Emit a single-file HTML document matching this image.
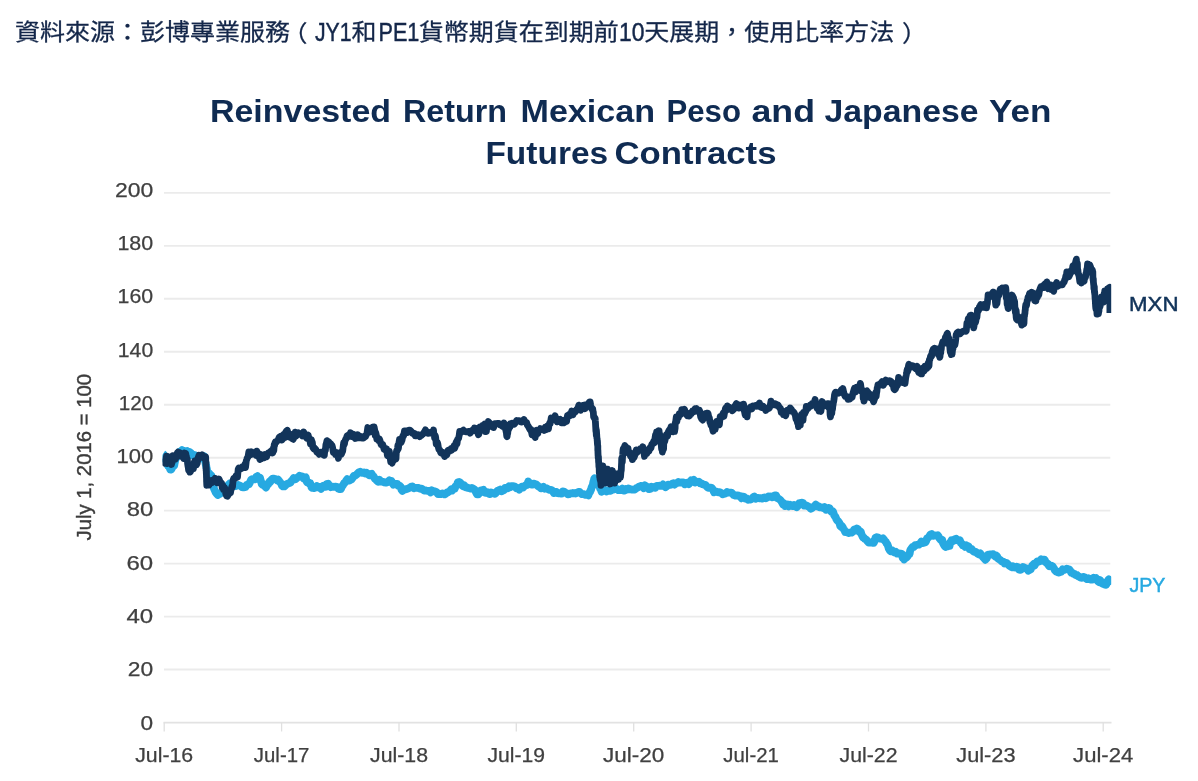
<!DOCTYPE html>
<html lang="zh-Hant"><head><meta charset="utf-8"><title>Reinvested Return Mexican Peso and Japanese Yen Futures Contracts</title>
<style>
html,body{margin:0;padding:0;background:#fff;}
body{width:1198px;height:781px;position:relative;overflow:hidden;font-family:"Liberation Sans","Noto Sans CJK TC",sans-serif;}
#src{position:absolute;left:15px;top:12.9px;margin:0;font-size:25px;font-weight:400;line-height:36px;color:#14274a;white-space:nowrap;font-family:"Liberation Sans","Noto Sans CJK TC",sans-serif;-webkit-text-stroke:0.3px #14274a;transform:scaleY(.925);transform-origin:0 27px;}
#src .l{display:inline-block;position:relative;top:1.2px;font-size:27.4px;vertical-align:baseline;white-space:nowrap;-webkit-text-stroke:0.5px #14274a;}
#src .l i{display:inline-block;font-style:normal;transform-origin:0 50%;}
#src .pl{position:relative;left:-7.5px;top:1.5px;}
#src .pr{position:relative;left:7.7px;top:1.5px;}
svg{position:absolute;left:0;top:0;}
svg text{font-family:"Liberation Sans",sans-serif;}
.ax text{font-size:20px;fill:#404040;stroke:#404040;stroke-width:0.25px;}
.ttl text{font-size:31.4px;font-weight:bold;fill:#0f2b52;}
</style></head><body>
<p id="src">資料來源：彭博專業服務<span class="pl">（</span><span class="l" style="width:36.5px"><i style="transform:scaleX(.775)">JY1</i></span>和<span class="l" style="width:42.2px"><i style="transform:translateX(1.5px) scaleX(.79)">PE1</i></span>貨幣期貨在到期前<span class="l" style="width:25.5px"><i style="transform:scaleX(.835)">10</i></span>天展期，使用比率方法<span class="pr">）</span></p>
<svg width="1198" height="781" viewBox="0 0 1198 781">
<g class="ttl">
<text y="121.6"><tspan x="210" textLength="181.0" lengthAdjust="spacingAndGlyphs">Reinvested</tspan> <tspan x="403" textLength="104.0" lengthAdjust="spacingAndGlyphs">Return</tspan> <tspan x="520.5" textLength="134.5" lengthAdjust="spacingAndGlyphs">Mexican</tspan> <tspan x="666.5" textLength="74.5" lengthAdjust="spacingAndGlyphs">Peso</tspan> <tspan x="751.5" textLength="63.5" lengthAdjust="spacingAndGlyphs">and</tspan> <tspan x="824.5" textLength="154.0" lengthAdjust="spacingAndGlyphs">Japanese</tspan> <tspan x="989.0" textLength="62.4" lengthAdjust="spacingAndGlyphs">Yen</tspan></text>
<text y="163.5"><tspan x="485.4" textLength="122.8" lengthAdjust="spacingAndGlyphs">Futures</tspan> <tspan x="614.4" textLength="162.1" lengthAdjust="spacingAndGlyphs">Contracts</tspan></text>
</g>
<g><line x1="164" y1="669.54" x2="1110.3" y2="669.54" stroke="#ebebeb" stroke-width="1.9"/>
<line x1="164" y1="616.58" x2="1110.3" y2="616.58" stroke="#ebebeb" stroke-width="1.9"/>
<line x1="164" y1="563.62" x2="1110.3" y2="563.62" stroke="#ebebeb" stroke-width="1.9"/>
<line x1="164" y1="510.66" x2="1110.3" y2="510.66" stroke="#ebebeb" stroke-width="1.9"/>
<line x1="164" y1="457.70" x2="1110.3" y2="457.70" stroke="#ebebeb" stroke-width="1.9"/>
<line x1="164" y1="404.74" x2="1110.3" y2="404.74" stroke="#ebebeb" stroke-width="1.9"/>
<line x1="164" y1="351.78" x2="1110.3" y2="351.78" stroke="#ebebeb" stroke-width="1.9"/>
<line x1="164" y1="298.82" x2="1110.3" y2="298.82" stroke="#ebebeb" stroke-width="1.9"/>
<line x1="164" y1="245.86" x2="1110.3" y2="245.86" stroke="#ebebeb" stroke-width="1.9"/>
<line x1="164" y1="192.90" x2="1110.3" y2="192.90" stroke="#ebebeb" stroke-width="1.9"/>
<line x1="163.5" y1="722.7" x2="1111.5" y2="722.7" stroke="#e2e2e2" stroke-width="1.8"/>
<line x1="164.2" y1="722.5" x2="164.2" y2="731.5" stroke="#e0e0e0" stroke-width="1.3"/>
<line x1="281.6" y1="722.5" x2="281.6" y2="731.5" stroke="#e0e0e0" stroke-width="1.3"/>
<line x1="399.0" y1="722.5" x2="399.0" y2="731.5" stroke="#e0e0e0" stroke-width="1.3"/>
<line x1="516.3" y1="722.5" x2="516.3" y2="731.5" stroke="#e0e0e0" stroke-width="1.3"/>
<line x1="633.7" y1="722.5" x2="633.7" y2="731.5" stroke="#e0e0e0" stroke-width="1.3"/>
<line x1="751.1" y1="722.5" x2="751.1" y2="731.5" stroke="#e0e0e0" stroke-width="1.3"/>
<line x1="868.5" y1="722.5" x2="868.5" y2="731.5" stroke="#e0e0e0" stroke-width="1.3"/>
<line x1="985.9" y1="722.5" x2="985.9" y2="731.5" stroke="#e0e0e0" stroke-width="1.3"/>
<line x1="1103.2" y1="722.5" x2="1103.2" y2="731.5" stroke="#e0e0e0" stroke-width="1.3"/>
</g>
<g class="ax">
<text x="153.2" y="729.5" text-anchor="end" textLength="12.6" lengthAdjust="spacingAndGlyphs">0</text>
<text x="153.2" y="676.2" text-anchor="end" textLength="25.4" lengthAdjust="spacingAndGlyphs">20</text>
<text x="153.2" y="622.9" text-anchor="end" textLength="26.7" lengthAdjust="spacingAndGlyphs">40</text>
<text x="153.2" y="569.7" text-anchor="end" textLength="26.7" lengthAdjust="spacingAndGlyphs">60</text>
<text x="153.2" y="516.4" text-anchor="end" textLength="26.5" lengthAdjust="spacingAndGlyphs">80</text>
<text x="153.2" y="463.1" text-anchor="end" textLength="36.8" lengthAdjust="spacingAndGlyphs">100</text>
<text x="153.2" y="409.8" text-anchor="end" textLength="34.5" lengthAdjust="spacingAndGlyphs">120</text>
<text x="153.2" y="356.5" text-anchor="end" textLength="35.4" lengthAdjust="spacingAndGlyphs">140</text>
<text x="153.2" y="303.3" text-anchor="end" textLength="35.6" lengthAdjust="spacingAndGlyphs">160</text>
<text x="153.2" y="250.0" text-anchor="end" textLength="35.8" lengthAdjust="spacingAndGlyphs">180</text>
<text x="153.2" y="196.7" text-anchor="end" textLength="38.3" lengthAdjust="spacingAndGlyphs">200</text>
<text x="164.2" y="761.8" text-anchor="middle" textLength="58" lengthAdjust="spacingAndGlyphs">Jul-16</text>
<text x="281.6" y="761.8" text-anchor="middle" textLength="55.5" lengthAdjust="spacingAndGlyphs">Jul-17</text>
<text x="399.0" y="761.8" text-anchor="middle" textLength="58" lengthAdjust="spacingAndGlyphs">Jul-18</text>
<text x="516.3" y="761.8" text-anchor="middle" textLength="57.5" lengthAdjust="spacingAndGlyphs">Jul-19</text>
<text x="633.7" y="761.8" text-anchor="middle" textLength="61.3" lengthAdjust="spacingAndGlyphs">Jul-20</text>
<text x="751.1" y="761.8" text-anchor="middle" textLength="55.5" lengthAdjust="spacingAndGlyphs">Jul-21</text>
<text x="868.5" y="761.8" text-anchor="middle" textLength="58" lengthAdjust="spacingAndGlyphs">Jul-22</text>
<text x="985.9" y="761.8" text-anchor="middle" textLength="59.2" lengthAdjust="spacingAndGlyphs">Jul-23</text>
<text x="1103.2" y="761.8" text-anchor="middle" textLength="60.2" lengthAdjust="spacingAndGlyphs">Jul-24</text>

<text transform="translate(91.3 457.2) rotate(-90)" text-anchor="middle" textLength="166.5" lengthAdjust="spacingAndGlyphs" style="font-size:21px;fill:#3c3c3c;stroke:#3c3c3c;stroke-width:0.4">July 1, 2016 = 100</text>
</g>
<defs><clipPath id="cp"><rect x="162.5" y="180" width="948.7" height="560"/></clipPath></defs>
<g clip-path="url(#cp)">
<path d="M162.9 453.9 L163.5 454.3 L164.1 456.6 L164.7 458.8 L165.3 459.3 L165.9 459.7 L166.5 461.7 L167.2 463.6 L167.8 465.5 L168.4 465.1 L169.1 465.6 L169.8 468.2 L170.4 469.7 L171.2 469.6 L171.9 468.4 L172.7 466.3 L173.4 464.6 L174.2 465.5 L174.7 462.8 L175.2 460.5 L175.7 458.6 L176.2 458.0 L176.8 457.1 L177.3 455.5 L177.8 454.4 L178.3 453.4 L178.8 452.6 L179.3 451.9 L180.6 451.7 L181.9 450.1 L183.1 451.8 L184.4 450.9 L185.7 451.6 L187.0 451.0 L188.2 452.1 L189.5 452.0 L190.8 452.9 L192.1 455.3 L193.1 454.9 L194.0 456.0 L195.0 455.2 L196.0 456.2 L196.9 457.9 L197.9 458.5 L199.2 458.5 L200.5 458.1 L201.7 456.9 L203.0 457.5 L204.3 456.5 L204.6 459.8 L204.9 460.0 L205.2 461.9 L205.5 462.9 L205.8 465.0 L206.2 465.4 L206.5 467.7 L206.8 468.5 L207.1 470.8 L207.4 472.1 L207.7 473.0 L208.9 472.9 L210.1 474.6 L211.3 475.6 L211.6 478.0 L211.8 478.1 L212.1 479.8 L212.3 481.3 L212.6 482.5 L212.9 483.8 L213.1 485.2 L213.4 485.9 L213.6 486.7 L213.9 488.4 L214.8 490.4 L215.8 492.7 L216.8 493.8 L217.7 495.0 L219.0 494.3 L220.2 493.7 L221.5 492.7 L222.8 492.6 L223.5 492.4 L224.3 490.0 L225.0 488.0 L225.8 488.8 L226.5 487.0 L227.3 486.2 L228.0 485.2 L229.5 483.7 L231.0 486.3 L232.4 486.6 L233.9 485.8 L235.4 486.1 L236.9 485.8 L238.2 485.0 L239.5 485.4 L240.8 486.1 L242.0 487.2 L243.3 487.4 L244.6 487.0 L245.7 487.0 L246.7 484.8 L247.8 484.6 L248.9 484.3 L249.9 482.5 L251.0 480.0 L252.1 479.2 L253.1 479.4 L254.2 479.2 L255.3 479.4 L256.3 476.9 L257.4 476.2 L258.3 477.9 L259.1 478.7 L260.0 477.8 L260.8 480.8 L261.7 483.9 L262.5 484.7 L263.4 484.2 L264.2 485.1 L265.1 486.6 L266.0 487.5 L266.8 485.8 L267.6 484.0 L268.5 483.9 L269.4 481.8 L270.2 482.0 L271.5 479.7 L272.8 478.6 L274.0 478.7 L275.3 479.0 L276.3 479.8 L277.2 480.5 L278.2 479.7 L279.1 481.0 L280.1 482.3 L281.1 483.5 L282.0 485.6 L283.0 486.4 L284.3 486.4 L285.6 485.3 L286.8 484.1 L288.1 483.5 L289.4 483.1 L290.5 482.7 L291.5 480.9 L292.6 479.9 L293.7 478.1 L294.7 479.3 L295.8 479.1 L297.1 477.8 L298.4 476.9 L299.6 475.7 L300.9 476.3 L302.2 476.3 L303.4 478.4 L304.5 477.7 L305.1 477.8 L305.8 477.4 L306.4 481.0 L307.1 482.2 L307.7 482.0 L309.0 483.6 L310.3 483.3 L311.5 487.5 L312.8 488.0 L314.1 488.2 L315.5 487.7 L316.9 486.2 L318.3 487.4 L319.7 487.0 L321.1 488.9 L322.3 486.3 L323.4 485.7 L324.6 486.7 L325.7 486.9 L326.9 484.1 L328.2 483.7 L329.5 485.9 L330.7 487.2 L332.0 486.6 L333.3 486.9 L334.6 486.9 L335.9 486.6 L337.1 487.0 L338.4 488.8 L339.7 489.1 L340.8 489.2 L341.8 486.9 L342.9 485.3 L344.0 483.3 L345.0 482.6 L346.1 480.7 L347.2 479.1 L348.3 480.1 L349.4 480.6 L350.5 479.8 L351.6 479.4 L352.7 477.8 L353.8 475.9 L355.1 475.6 L356.4 474.8 L357.6 473.6 L358.9 472.3 L360.2 471.7 L361.5 472.6 L362.8 472.9 L364.0 472.4 L365.3 473.6 L366.6 472.8 L367.9 473.8 L369.1 475.2 L370.4 474.5 L371.7 473.8 L372.8 476.3 L373.8 476.6 L374.9 478.9 L376.0 479.5 L377.0 480.8 L378.1 481.7 L379.4 479.8 L380.7 481.7 L381.9 481.6 L383.2 481.8 L384.5 482.5 L385.8 482.7 L387.0 482.3 L388.3 481.8 L389.3 480.5 L390.3 481.3 L391.4 481.0 L392.4 482.8 L393.4 484.6 L394.7 483.7 L396.0 484.0 L397.3 484.0 L398.1 485.7 L399.0 485.4 L399.9 485.9 L400.7 486.7 L401.5 489.7 L402.4 490.9 L403.7 489.8 L405.0 489.4 L406.2 489.1 L407.5 488.8 L408.8 488.2 L410.1 487.7 L411.4 486.6 L412.6 486.5 L413.9 488.2 L415.2 487.8 L416.5 487.8 L417.8 487.8 L419.0 488.2 L420.3 488.9 L421.6 488.6 L422.9 489.6 L424.2 490.5 L425.4 490.4 L426.7 490.7 L428.0 491.0 L429.3 490.9 L430.6 492.4 L431.8 490.3 L433.1 491.2 L434.4 491.3 L435.7 491.7 L437.0 492.7 L438.2 494.2 L439.5 494.1 L440.8 494.1 L442.1 493.5 L443.4 493.6 L444.6 494.4 L445.9 493.6 L447.2 492.5 L448.5 492.0 L450.1 490.7 L451.1 489.5 L452.1 490.5 L453.0 489.7 L454.0 488.3 L454.8 488.5 L455.5 486.2 L456.3 485.8 L457.0 485.1 L457.8 482.3 L459.1 482.0 L460.4 482.7 L461.6 484.8 L462.9 486.2 L464.2 485.3 L465.4 487.3 L466.7 487.4 L468.0 488.0 L469.3 488.2 L470.6 488.7 L471.9 488.0 L473.2 488.7 L474.5 489.4 L475.7 491.7 L477.0 494.4 L478.3 494.4 L479.6 492.6 L480.8 490.4 L482.1 490.5 L483.4 489.8 L484.7 492.6 L486.0 492.8 L487.2 492.2 L488.5 493.6 L489.8 494.1 L491.1 492.5 L492.4 492.9 L493.6 493.4 L494.9 493.9 L495.8 493.1 L496.6 491.7 L497.5 490.9 L498.8 490.3 L500.1 489.6 L501.3 491.3 L502.6 490.8 L503.9 490.2 L505.1 487.9 L506.4 487.8 L507.7 488.2 L509.0 486.3 L510.2 487.3 L511.5 486.2 L512.8 486.1 L514.1 486.3 L515.4 487.0 L516.6 488.4 L517.9 487.9 L519.2 489.6 L520.5 487.9 L521.8 486.8 L523.1 487.6 L524.4 486.2 L525.4 485.3 L526.3 485.3 L527.2 484.9 L528.2 481.6 L529.5 482.8 L530.8 484.5 L532.0 484.7 L533.3 483.6 L534.3 483.6 L535.3 484.3 L536.4 484.4 L537.4 485.6 L538.4 486.6 L539.7 487.0 L541.0 488.4 L542.2 487.9 L543.5 486.9 L544.8 488.7 L546.1 488.1 L547.4 488.7 L548.6 489.5 L549.9 489.9 L551.2 489.9 L552.5 490.6 L553.8 493.0 L555.0 491.8 L556.3 491.9 L557.6 493.1 L558.9 493.3 L560.2 493.5 L561.4 493.7 L562.7 491.5 L564.0 491.6 L565.3 492.6 L566.6 493.3 L567.8 494.3 L569.1 494.1 L570.4 493.5 L571.7 493.4 L573.0 493.0 L574.2 493.2 L575.5 493.5 L576.8 492.8 L578.1 492.1 L579.4 491.8 L580.6 493.3 L581.9 494.1 L583.2 494.1 L584.5 494.5 L585.8 494.9 L587.0 494.7 L588.3 495.4 L589.2 492.9 L590.1 491.9 L590.5 490.3 L591.0 490.0 L591.4 488.1 L591.8 486.9 L592.3 486.1 L592.7 485.8 L593.1 483.2 L593.5 481.2 L593.8 481.1 L594.2 478.7 L594.6 478.3 L595.5 479.0 L596.3 480.5 L597.2 480.4 L597.9 483.2 L598.7 484.1 L599.4 484.9 L600.1 488.5 L600.9 489.5 L601.6 491.7 L602.9 490.9 L604.2 490.1 L605.5 490.2 L606.7 491.5 L608.0 490.7 L609.3 490.9 L610.6 490.8 L611.9 489.4 L613.1 489.6 L614.4 489.0 L615.7 488.1 L617.0 489.3 L618.3 490.1 L619.6 490.2 L620.8 489.6 L622.1 488.7 L623.4 490.6 L624.7 490.5 L626.0 489.0 L627.2 489.6 L628.5 488.4 L629.8 489.1 L631.1 489.4 L632.4 489.7 L633.6 489.6 L634.9 489.5 L636.2 488.3 L637.5 487.6 L638.8 486.8 L640.0 486.2 L641.3 485.9 L642.6 486.7 L643.8 488.1 L645.1 485.4 L646.4 486.9 L647.7 487.0 L649.0 489.2 L650.2 489.0 L651.5 486.9 L652.8 487.8 L654.1 487.0 L655.4 487.7 L656.6 486.0 L657.9 486.0 L659.2 485.7 L660.5 485.8 L661.8 485.6 L663.0 484.5 L664.3 486.1 L665.6 487.2 L666.9 486.2 L668.2 484.7 L669.5 484.8 L670.7 484.8 L672.0 483.9 L673.3 483.3 L674.6 484.6 L675.9 483.1 L677.1 483.1 L678.4 482.0 L679.7 482.7 L681.0 482.6 L682.3 482.3 L683.5 482.3 L684.8 484.2 L686.1 483.2 L687.4 482.7 L688.7 484.1 L690.0 482.6 L691.2 480.4 L692.5 481.0 L693.8 480.0 L695.1 482.5 L696.4 481.5 L697.6 482.0 L698.9 481.7 L700.2 483.4 L701.5 483.3 L702.8 484.3 L704.0 484.6 L705.3 484.8 L706.6 486.4 L707.9 487.6 L709.2 487.9 L710.4 487.6 L711.7 487.8 L713.0 489.5 L714.0 492.3 L715.0 491.6 L716.1 491.5 L717.1 492.0 L718.1 492.3 L719.6 492.2 L721.2 492.8 L722.7 494.4 L724.3 493.9 L725.8 493.2 L727.1 491.9 L728.3 492.7 L729.6 492.7 L730.0 492.6 L731.3 492.6 L732.6 493.7 L733.8 495.1 L735.1 495.5 L736.4 495.5 L737.7 495.3 L739.0 496.0 L740.2 496.2 L741.5 498.3 L742.8 496.7 L744.1 496.9 L745.4 498.6 L746.6 498.3 L747.9 499.8 L749.2 499.4 L750.5 499.7 L751.8 498.7 L753.1 497.2 L754.3 496.6 L755.6 498.7 L756.9 498.0 L758.2 497.9 L759.5 498.3 L760.7 498.2 L762.0 498.6 L763.3 497.8 L764.6 497.4 L765.9 498.3 L767.1 497.5 L768.4 496.4 L769.7 496.9 L771.0 496.5 L772.3 497.2 L773.5 496.2 L774.8 495.4 L776.1 495.5 L777.1 498.1 L778.1 498.4 L779.2 499.2 L780.2 499.9 L781.2 501.0 L782.2 502.7 L783.1 504.5 L784.0 503.3 L785.0 506.0 L786.3 505.3 L787.6 504.5 L788.8 506.3 L790.1 504.8 L791.4 505.8 L792.7 506.1 L794.0 505.0 L795.3 506.2 L796.6 507.2 L797.9 505.9 L799.2 503.1 L800.4 503.1 L801.7 502.7 L803.0 502.8 L804.2 505.6 L805.5 505.4 L806.8 505.6 L807.8 506.3 L808.7 506.6 L809.6 507.2 L810.6 508.7 L811.9 508.3 L813.2 507.0 L814.5 506.4 L815.8 504.6 L817.1 506.3 L818.4 506.2 L819.6 507.3 L820.9 507.1 L822.2 507.7 L823.5 508.2 L824.7 507.1 L826.0 509.7 L827.2 508.5 L828.5 508.0 L829.5 508.1 L830.5 510.5 L831.4 511.8 L832.4 511.9 L832.9 511.5 L833.5 512.8 L834.0 515.0 L834.6 515.8 L835.1 516.2 L835.7 517.2 L836.2 518.7 L837.2 520.4 L838.2 521.2 L839.3 522.7 L840.3 526.0 L841.3 527.0 L842.1 526.2 L842.9 527.8 L843.6 529.0 L844.4 530.1 L845.2 532.2 L846.5 532.1 L847.7 532.5 L849.0 533.0 L850.3 532.3 L851.6 532.6 L852.9 531.8 L854.2 529.6 L855.5 529.2 L856.7 528.5 L858.0 529.2 L858.7 530.2 L859.3 531.8 L860.0 532.3 L860.8 531.8 L861.5 534.3 L862.3 535.9 L863.0 537.6 L863.8 537.5 L864.8 538.9 L865.8 539.3 L866.7 540.0 L867.7 541.6 L868.8 542.7 L870.0 542.6 L871.1 542.3 L872.2 542.8 L873.0 542.3 L873.8 542.7 L874.6 541.1 L875.4 537.9 L876.5 537.2 L877.5 537.3 L878.6 537.8 L879.7 538.6 L880.8 538.6 L881.9 538.9 L883.0 538.3 L883.9 539.5 L884.8 540.8 L885.7 541.6 L886.6 543.4 L887.5 544.4 L888.1 546.2 L888.8 548.6 L889.4 549.7 L890.1 550.7 L890.7 551.3 L892.0 550.3 L893.2 551.3 L894.5 552.4 L895.8 551.8 L897.1 553.6 L898.4 553.2 L899.7 553.8 L901.0 553.7 L901.8 554.0 L902.6 557.6 L903.4 557.2 L904.2 559.5 L905.5 557.8 L906.7 557.3 L908.0 555.7 L908.5 554.3 L909.1 554.1 L909.6 554.0 L910.1 550.8 L910.7 549.4 L911.2 548.8 L912.5 547.0 L913.8 546.9 L915.0 545.2 L916.3 545.1 L917.6 544.6 L918.8 544.7 L920.1 543.6 L921.4 541.5 L922.7 543.1 L924.0 542.7 L924.8 542.5 L925.5 542.3 L926.3 540.7 L927.0 538.3 L927.8 538.1 L929.1 536.8 L930.4 534.6 L931.7 534.0 L933.0 535.8 L934.2 535.3 L935.5 535.6 L936.8 535.6 L937.8 535.3 L938.7 536.7 L939.6 538.6 L940.6 539.8 L941.4 540.6 L942.2 539.9 L942.9 543.0 L943.7 544.5 L944.5 545.9 L945.8 547.0 L947.0 546.3 L948.3 546.3 L948.9 545.7 L949.6 545.8 L950.2 542.5 L950.9 541.6 L951.5 540.2 L952.6 540.5 L953.6 540.9 L954.7 539.3 L956.0 538.7 L957.2 540.0 L958.5 540.6 L959.8 540.2 L960.8 542.9 L961.8 543.5 L962.7 545.4 L963.7 545.2 L965.0 546.8 L966.2 545.5 L967.5 547.2 L968.5 546.3 L969.5 549.1 L970.6 549.3 L971.6 549.0 L972.6 550.5 L973.9 551.8 L975.2 551.7 L976.4 552.4 L977.7 553.7 L979.0 554.5 L980.3 553.5 L981.6 555.2 L982.9 557.1 L984.1 558.2 L985.4 559.8 L986.0 557.4 L986.7 558.3 L987.4 556.5 L988.0 554.6 L989.2 554.7 L990.5 554.4 L991.8 554.3 L993.1 554.1 L994.4 555.7 L995.4 556.6 L996.3 555.6 L997.2 556.5 L998.2 558.7 L999.5 559.5 L1000.8 560.4 L1002.0 561.4 L1003.3 561.8 L1004.4 563.5 L1005.5 562.8 L1006.6 563.1 L1007.8 564.1 L1008.9 565.3 L1010.0 566.2 L1011.4 567.2 L1012.7 566.2 L1014.0 567.4 L1015.4 567.5 L1016.7 566.6 L1018.0 567.3 L1019.2 569.7 L1020.5 569.9 L1021.8 568.9 L1023.0 567.0 L1024.3 567.7 L1025.6 568.2 L1026.9 568.7 L1028.2 570.7 L1029.4 570.1 L1030.7 569.4 L1031.5 567.1 L1032.3 565.4 L1033.0 564.9 L1033.8 563.9 L1034.6 565.5 L1035.9 563.1 L1037.1 561.5 L1038.4 561.8 L1039.7 561.1 L1041.0 559.5 L1042.2 560.7 L1043.5 559.7 L1044.5 559.6 L1045.5 561.4 L1046.4 562.9 L1047.4 563.4 L1048.4 565.0 L1049.3 566.3 L1050.2 566.1 L1051.2 565.6 L1052.5 566.2 L1053.8 568.1 L1055.0 570.5 L1056.3 571.7 L1057.6 572.2 L1058.8 572.6 L1060.1 571.4 L1061.4 571.8 L1062.7 569.3 L1064.0 569.9 L1065.3 569.5 L1066.6 568.7 L1067.9 569.1 L1069.1 569.3 L1070.4 570.9 L1071.4 572.9 L1072.4 572.8 L1073.5 573.9 L1074.5 573.9 L1075.5 575.1 L1076.8 574.8 L1078.1 576.3 L1079.3 576.7 L1080.6 577.7 L1081.9 577.8 L1083.2 576.9 L1084.5 577.2 L1085.7 578.3 L1087.0 579.1 L1088.3 578.3 L1089.6 579.0 L1090.9 579.5 L1092.2 579.6 L1093.5 577.9 L1094.7 578.8 L1096.0 578.0 L1097.0 580.3 L1098.0 581.3 L1099.1 582.1 L1100.1 580.2 L1101.1 582.5 L1102.4 583.7 L1103.7 582.8 L1104.9 584.6 L1106.2 584.8 L1106.8 583.4 L1107.5 581.8 L1108.2 580.2 L1108.8 579.4 L1109.8 580.9 L1110.7 578.6" fill="none" stroke="#27a9e1" stroke-width="7.8" stroke-linejoin="round" stroke-linecap="butt"/>
<path d="M162.9 458.4 L163.2 459.1 L163.5 461.5 L163.9 461.7 L164.2 462.4 L164.5 462.3 L164.8 461.9 L165.0 463.3 L165.2 461.7 L165.5 461.4 L165.8 459.0 L166.0 457.6 L166.2 458.4 L166.5 456.1 L166.8 460.6 L167.0 462.3 L167.2 463.6 L167.5 460.9 L167.9 458.2 L168.2 458.0 L168.6 457.8 L168.9 458.3 L169.3 457.0 L169.7 459.1 L170.0 458.6 L170.4 460.8 L170.7 462.5 L171.1 462.0 L171.5 464.5 L171.8 462.5 L172.2 462.2 L172.5 458.1 L172.9 455.7 L173.9 457.0 L174.8 458.4 L175.5 458.9 L176.1 457.6 L176.8 455.3 L177.4 452.8 L178.0 452.1 L178.7 454.2 L179.5 452.6 L180.2 454.5 L181.0 456.1 L181.7 453.8 L182.5 456.4 L183.6 458.5 L184.6 453.0 L185.7 453.6 L186.0 455.7 L186.3 456.0 L186.7 459.3 L187.0 460.3 L187.3 459.0 L187.6 463.4 L187.9 465.5 L188.3 467.6 L188.6 470.0 L188.9 469.8 L189.2 470.1 L189.6 468.5 L189.9 472.2 L190.2 472.1 L190.8 470.8 L191.5 468.1 L192.1 466.9 L192.8 466.5 L193.4 468.8 L194.1 462.9 L194.7 461.1 L195.5 462.9 L196.4 464.9 L197.2 463.4 L198.1 457.8 L199.0 455.3 L199.8 457.6 L201.0 456.3 L202.1 454.8 L203.3 457.7 L204.4 458.6 L205.6 456.9 L205.7 457.9 L205.7 459.4 L205.8 462.9 L205.8 463.2 L205.9 463.9 L205.9 465.1 L206.0 462.5 L206.0 467.6 L206.1 469.6 L206.1 470.3 L206.2 467.0 L206.3 469.0 L206.3 473.2 L206.4 470.8 L206.4 473.7 L206.5 477.6 L206.5 475.7 L206.6 481.1 L206.6 481.9 L206.7 481.8 L206.7 483.4 L206.8 485.4 L207.9 484.1 L209.1 485.0 L210.2 481.7 L211.3 480.5 L212.6 482.3 L213.9 480.7 L215.1 478.2 L216.4 480.1 L217.3 482.8 L218.1 480.9 L219.0 479.1 L219.9 481.2 L220.7 482.5 L221.6 483.2 L222.2 487.4 L222.9 485.4 L223.5 489.5 L224.1 487.2 L224.8 488.1 L225.4 491.7 L226.0 494.6 L226.7 496.0 L227.3 496.3 L228.4 494.6 L229.4 493.3 L230.5 492.9 L230.8 490.5 L231.1 489.7 L231.4 489.1 L231.7 487.0 L231.9 486.8 L232.2 485.6 L232.5 486.9 L232.8 483.5 L233.1 480.1 L233.8 478.4 L234.6 477.7 L235.3 478.5 L236.0 475.7 L236.7 475.4 L237.5 477.1 L238.2 469.2 L238.8 468.0 L239.5 469.2 L240.1 469.1 L241.2 468.6 L242.3 466.8 L243.5 467.7 L244.6 466.9 L245.0 464.2 L245.5 467.6 L245.9 464.3 L246.3 460.7 L246.8 459.4 L247.2 457.9 L248.0 457.0 L248.8 452.0 L249.5 452.7 L250.3 454.9 L251.5 451.8 L252.6 452.4 L253.8 454.2 L254.9 454.4 L256.1 455.4 L256.9 451.2 L257.6 452.9 L258.4 454.1 L259.1 457.0 L259.9 459.5 L260.6 454.4 L261.7 458.6 L262.9 455.4 L264.0 457.8 L265.1 454.6 L265.9 455.4 L266.6 456.7 L267.4 454.1 L268.1 453.0 L268.9 453.0 L270.2 451.8 L271.4 450.7 L272.7 452.9 L273.1 451.8 L273.4 448.2 L273.8 450.7 L274.2 444.8 L274.6 445.6 L274.9 443.0 L275.3 442.0 L276.2 442.3 L277.0 440.9 L277.9 440.6 L279.2 437.3 L280.4 436.4 L281.7 440.1 L283.0 438.7 L283.5 436.8 L283.9 434.5 L284.4 437.7 L284.8 437.0 L285.3 437.3 L285.7 432.2 L286.2 431.3 L287.3 430.3 L288.3 433.9 L289.4 437.1 L290.7 434.4 L291.9 438.4 L293.2 439.3 L294.2 436.6 L295.1 432.1 L296.1 436.1 L297.1 434.4 L298.4 432.8 L299.6 433.8 L300.9 434.0 L302.2 435.8 L303.6 431.9 L305.1 434.4 L305.9 436.8 L306.7 438.1 L307.4 436.3 L308.2 435.2 L309.0 438.6 L309.5 439.1 L309.9 440.1 L310.4 443.7 L310.9 442.7 L311.4 439.6 L311.9 442.8 L312.3 442.1 L312.8 447.4 L313.8 448.9 L314.8 448.3 L315.9 449.7 L316.9 452.3 L317.9 452.4 L319.2 454.3 L320.5 452.4 L321.7 453.6 L323.0 454.7 L324.3 455.3 L324.8 450.1 L325.4 450.3 L325.9 444.6 L326.4 443.2 L327.0 440.6 L327.5 443.9 L328.6 441.7 L329.6 443.2 L330.7 443.6 L331.4 445.1 L332.0 445.4 L332.6 447.7 L333.3 452.1 L334.0 451.2 L334.6 452.6 L335.4 454.6 L336.1 454.0 L336.9 452.6 L337.6 454.1 L338.4 458.3 L339.2 453.4 L339.9 452.8 L340.7 454.6 L341.4 454.2 L342.2 451.8 L342.6 451.6 L342.9 449.5 L343.3 445.6 L343.7 442.6 L344.1 442.4 L344.4 444.3 L344.8 441.5 L345.6 439.4 L346.3 438.3 L347.1 435.9 L347.8 437.0 L348.6 434.9 L349.3 436.2 L350.4 432.8 L351.6 436.6 L352.7 436.5 L353.8 434.4 L355.1 438.5 L356.4 438.2 L357.6 434.7 L358.9 436.0 L359.9 437.8 L360.9 436.7 L362.0 438.1 L363.0 438.1 L364.0 437.6 L364.8 436.0 L365.5 436.6 L366.3 434.9 L367.0 433.3 L367.8 427.5 L369.0 430.5 L370.1 431.9 L371.3 429.1 L372.4 427.4 L373.6 430.7 L374.1 426.8 L374.7 430.2 L375.2 435.5 L375.7 432.4 L376.3 435.1 L376.8 439.0 L377.4 437.5 L378.1 438.9 L378.7 440.8 L379.4 439.0 L380.0 440.5 L380.5 442.4 L381.1 444.7 L381.6 444.7 L382.1 445.1 L382.7 444.5 L383.2 446.1 L384.1 449.4 L384.9 449.7 L385.8 448.6 L386.6 448.8 L387.4 455.7 L388.3 456.0 L388.8 456.0 L389.3 451.1 L389.8 455.9 L390.2 458.1 L390.7 461.8 L391.2 461.6 L391.7 461.4 L392.2 463.2 L392.8 457.8 L393.5 460.5 L394.1 459.4 L394.7 456.4 L395.4 458.2 L396.0 458.9 L396.3 452.6 L396.6 450.9 L396.9 451.1 L397.2 450.2 L397.6 448.0 L397.9 445.4 L398.2 449.2 L398.5 447.7 L399.0 442.4 L399.5 439.5 L400.1 443.0 L400.6 442.2 L401.1 442.5 L402.0 440.3 L402.8 435.9 L403.6 435.8 L404.5 430.8 L405.4 430.9 L406.2 431.6 L407.3 432.5 L408.4 430.3 L409.6 430.1 L410.7 430.7 L411.6 431.9 L412.5 433.3 L413.4 433.7 L414.3 433.4 L415.2 435.9 L416.3 435.8 L417.4 434.6 L418.6 434.9 L419.7 436.6 L420.6 435.8 L421.5 435.4 L422.3 434.4 L423.2 433.8 L424.1 432.5 L425.4 429.9 L426.7 431.8 L428.0 433.3 L429.3 433.1 L430.6 432.2 L431.8 433.2 L433.1 431.2 L433.5 429.9 L433.8 433.8 L434.2 434.1 L434.6 438.0 L435.0 436.9 L435.3 435.6 L435.7 437.7 L436.2 443.9 L436.8 443.4 L437.3 442.3 L437.8 443.8 L438.4 447.5 L438.9 449.5 L439.8 450.0 L440.8 453.0 L441.8 453.1 L442.7 452.4 L443.7 453.7 L444.6 456.5 L445.7 455.4 L446.9 454.7 L448.0 450.3 L449.1 450.0 L450.0 450.9 L450.9 448.9 L451.8 450.1 L452.7 449.1 L453.3 448.5 L454.0 445.7 L454.6 448.4 L455.2 446.8 L455.9 443.0 L456.5 441.5 L457.0 443.9 L457.6 439.3 L458.1 439.0 L458.6 438.3 L459.2 435.4 L459.7 431.5 L460.4 431.9 L461.0 431.6 L461.6 432.1 L462.3 431.0 L463.4 430.1 L464.6 431.5 L465.7 431.8 L466.8 431.6 L467.9 431.6 L469.0 431.4 L470.1 433.2 L471.2 431.1 L472.3 430.3 L473.3 430.8 L474.4 427.9 L475.4 429.9 L476.4 428.5 L477.3 430.9 L478.3 434.7 L478.8 434.3 L479.2 432.3 L479.7 430.4 L480.1 426.8 L480.6 430.5 L481.0 428.6 L481.5 428.2 L482.6 425.6 L483.6 426.3 L484.7 424.1 L485.0 428.8 L485.4 431.5 L485.7 428.1 L486.0 430.9 L486.4 431.5 L486.8 426.7 L487.2 424.2 L487.6 423.8 L488.0 423.7 L488.4 421.5 L488.8 422.5 L489.2 422.5 L490.3 424.0 L491.4 425.0 L492.5 427.1 L493.6 427.5 L494.9 423.6 L496.2 423.9 L497.5 423.4 L498.8 423.5 L500.1 424.9 L501.4 425.5 L502.6 426.5 L503.9 423.0 L504.4 423.8 L504.9 427.0 L505.3 428.7 L505.8 429.9 L506.1 431.5 L506.3 431.5 L506.6 434.9 L506.8 436.2 L507.1 436.7 L507.4 434.2 L507.7 433.4 L508.1 428.8 L508.4 428.6 L508.7 429.5 L509.0 426.4 L509.5 427.6 L509.9 427.2 L510.4 423.7 L510.9 423.7 L512.0 423.3 L513.1 424.2 L514.3 424.3 L515.4 422.8 L516.7 420.5 L518.0 420.7 L519.2 420.6 L520.5 421.7 L521.6 422.1 L522.8 420.8 L523.9 419.6 L525.0 421.4 L525.8 422.2 L526.6 422.6 L527.4 425.2 L528.2 426.2 L529.2 428.0 L530.1 429.9 L531.0 429.5 L532.0 434.7 L532.8 432.6 L533.6 435.2 L534.4 435.1 L535.2 437.5 L535.7 430.6 L536.2 430.3 L536.8 431.3 L537.3 431.5 L537.8 433.6 L538.6 430.4 L539.5 430.3 L540.3 428.6 L541.3 429.5 L542.2 429.6 L543.2 428.9 L544.2 430.4 L545.3 427.2 L546.3 429.7 L547.4 426.2 L547.9 426.3 L548.5 428.9 L549.0 424.9 L549.6 423.1 L550.1 423.8 L550.7 421.2 L551.2 418.0 L552.2 418.6 L553.2 419.0 L554.1 418.9 L555.1 415.8 L556.1 420.1 L557.1 421.8 L558.2 419.9 L559.2 420.1 L560.2 419.4 L561.5 422.8 L562.8 420.7 L564.0 422.8 L565.3 421.9 L565.7 419.8 L566.2 420.9 L566.6 421.5 L567.0 418.6 L567.5 415.7 L567.9 416.5 L568.7 414.8 L569.4 414.3 L570.2 415.6 L570.9 414.8 L571.7 411.0 L573.0 414.7 L574.2 411.7 L575.5 411.8 L576.8 409.1 L577.8 408.7 L578.8 405.1 L579.7 409.7 L580.7 410.2 L582.0 406.6 L583.2 405.3 L584.5 405.0 L585.1 408.7 L585.8 406.5 L586.5 405.8 L587.1 404.4 L588.2 404.3 L589.2 402.3 L590.3 403.4 L590.1 401.8 L590.6 404.7 L591.1 407.1 L591.7 409.0 L592.2 409.1 L592.7 408.8 L593.0 411.4 L593.3 412.0 L593.6 416.7 L594.0 417.7 L594.3 417.3 L594.6 417.4 L594.9 417.9 L595.2 418.4 L595.3 420.5 L595.5 423.2 L595.6 425.4 L595.7 427.1 L595.9 431.2 L596.0 428.5 L596.1 429.7 L596.3 435.0 L596.4 430.3 L596.5 431.8 L596.7 434.4 L596.8 436.1 L596.9 438.0 L597.1 438.4 L597.2 440.4 L597.3 441.4 L597.4 443.8 L597.4 440.8 L597.5 442.3 L597.6 445.3 L597.7 445.3 L597.8 446.1 L597.8 450.2 L597.9 450.2 L598.0 453.3 L598.1 455.5 L598.2 456.3 L598.2 457.7 L598.3 458.0 L598.4 456.6 L598.5 459.4 L598.6 462.1 L598.7 462.1 L598.8 463.7 L598.9 466.6 L599.0 465.5 L599.2 468.7 L599.3 472.8 L599.4 470.8 L599.5 472.2 L599.6 473.0 L599.7 477.1 L599.9 477.3 L600.1 479.3 L600.3 478.0 L600.4 479.7 L600.6 481.2 L600.8 479.4 L601.0 485.4 L601.2 484.9 L601.3 479.1 L601.5 480.7 L601.6 478.9 L601.8 478.5 L602.0 477.4 L602.1 472.9 L602.3 472.8 L602.4 475.0 L602.6 471.3 L602.7 468.3 L602.9 465.9 L603.1 467.0 L603.3 471.0 L603.5 475.7 L603.7 475.9 L603.9 476.5 L604.2 480.9 L604.4 478.5 L604.6 478.2 L604.8 481.1 L605.0 483.0 L605.2 481.7 L605.4 479.2 L605.7 480.1 L605.9 479.4 L606.1 475.6 L606.4 475.4 L606.6 473.8 L606.8 474.2 L607.0 472.5 L607.3 471.0 L607.5 469.2 L607.7 472.8 L608.0 475.4 L608.2 474.0 L608.4 476.5 L608.7 475.4 L608.9 477.2 L609.2 479.9 L609.4 483.0 L609.6 481.5 L609.9 482.4 L610.1 484.0 L610.4 479.7 L610.6 480.0 L610.9 478.1 L611.1 478.4 L611.4 474.9 L611.6 471.4 L611.9 472.8 L612.1 472.8 L612.4 470.5 L612.7 474.0 L613.0 474.0 L613.3 474.3 L613.5 477.1 L613.8 475.3 L614.1 477.1 L614.4 479.7 L614.7 483.0 L615.0 480.7 L615.4 479.8 L615.7 477.0 L616.0 476.9 L616.3 478.4 L616.7 473.9 L617.0 477.0 L617.4 474.3 L617.8 475.3 L618.2 476.8 L618.6 479.5 L619.0 477.3 L619.3 473.5 L619.6 476.1 L619.9 476.6 L620.2 475.7 L620.5 477.1 L620.8 473.6 L620.9 471.6 L621.1 471.3 L621.2 469.3 L621.3 470.1 L621.5 464.4 L621.6 463.1 L621.7 458.7 L621.8 461.5 L622.0 459.6 L622.1 460.4 L622.3 461.8 L622.5 457.7 L622.7 454.9 L622.8 452.6 L623.0 450.3 L623.2 449.0 L623.4 449.9 L623.9 448.5 L624.3 447.3 L624.8 445.6 L625.2 446.2 L625.8 447.2 L626.3 447.1 L626.9 449.3 L627.4 449.3 L628.0 448.2 L628.5 453.2 L629.1 453.9 L629.8 452.3 L630.5 456.0 L631.1 456.7 L631.8 454.2 L632.4 459.7 L633.2 458.0 L633.9 457.7 L634.7 455.7 L635.4 453.7 L636.2 449.9 L637.1 452.5 L637.9 451.2 L638.8 449.7 L639.6 449.7 L640.4 448.7 L641.3 448.8 L641.8 448.4 L642.4 449.5 L642.9 446.8 L643.4 449.7 L644.0 453.3 L644.5 456.4 L645.2 453.1 L646.0 451.6 L646.8 453.5 L647.5 450.0 L648.2 450.0 L649.0 451.0 L650.0 447.8 L650.9 448.2 L651.8 444.2 L652.8 443.8 L653.3 442.3 L653.7 441.2 L654.2 441.9 L654.6 442.7 L655.1 437.5 L655.5 435.0 L656.0 435.3 L656.6 432.0 L657.3 433.0 L658.0 432.9 L658.6 430.7 L658.8 433.0 L659.1 430.9 L659.3 435.2 L659.5 433.4 L659.8 435.1 L660.0 436.8 L660.3 438.5 L660.5 442.2 L660.8 442.8 L661.0 442.9 L661.3 445.4 L661.6 448.9 L661.9 448.1 L662.1 449.2 L662.4 452.0 L662.7 449.6 L663.0 445.2 L663.3 449.6 L663.6 448.7 L663.8 441.3 L664.1 441.3 L664.4 441.4 L664.7 441.6 L665.0 440.3 L665.6 437.6 L666.3 434.6 L666.9 435.0 L667.6 436.1 L668.2 432.0 L669.2 430.1 L670.1 430.7 L671.0 426.8 L672.0 427.8 L672.6 429.2 L673.3 431.8 L674.0 431.3 L674.6 431.4 L674.7 430.7 L674.8 430.3 L674.8 428.2 L674.9 427.8 L675.0 428.2 L675.1 428.3 L675.1 428.4 L675.2 423.2 L675.7 421.4 L676.3 416.9 L676.8 421.9 L677.3 418.3 L677.9 417.6 L678.4 417.6 L679.2 413.7 L680.1 414.9 L681.0 413.9 L681.8 409.7 L682.6 411.3 L683.5 412.9 L684.5 409.3 L685.5 413.4 L686.4 414.4 L687.4 415.8 L688.4 415.2 L689.4 416.0 L690.5 413.1 L691.5 413.5 L692.5 410.9 L693.8 411.6 L695.0 408.7 L696.3 408.5 L697.6 411.3 L698.1 411.4 L698.6 411.1 L699.2 410.0 L699.7 411.0 L700.2 413.8 L700.7 416.9 L701.2 417.7 L701.6 419.0 L702.1 419.1 L702.7 420.1 L703.4 416.6 L704.0 414.3 L704.7 415.3 L705.3 413.5 L706.6 413.2 L707.9 413.1 L708.3 414.6 L708.6 417.6 L709.0 419.0 L709.3 417.5 L709.7 420.7 L710.0 422.3 L710.4 421.5 L710.9 425.1 L711.5 425.1 L712.0 425.7 L712.5 428.6 L713.1 431.3 L713.6 429.3 L714.1 429.0 L714.7 425.7 L715.2 429.4 L715.7 424.9 L716.3 425.5 L716.8 421.5 L718.1 422.6 L719.4 424.8 L720.2 416.3 L721.1 416.2 L721.9 417.0 L722.5 415.4 L723.2 413.0 L723.9 416.3 L724.5 412.9 L725.5 408.2 L726.4 410.4 L727.3 405.9 L728.3 408.9 L729.6 407.3 L730.9 408.2 L732.2 410.7 L733.8 409.2 L735.1 405.7 L736.4 403.6 L737.7 407.8 L739.0 408.1 L740.2 405.1 L741.5 406.7 L742.8 406.3 L743.2 407.9 L743.6 404.1 L744.0 407.1 L744.4 411.1 L744.8 413.1 L745.2 414.9 L745.6 410.4 L746.0 414.3 L746.5 414.6 L747.1 416.9 L747.6 411.2 L748.1 409.5 L748.7 408.7 L749.2 409.1 L750.5 407.0 L751.8 408.9 L753.0 405.9 L754.3 406.5 L755.6 405.4 L756.8 406.3 L758.1 405.1 L759.4 403.0 L760.7 407.3 L762.0 407.6 L763.3 406.3 L764.6 407.9 L765.8 410.5 L767.1 408.4 L767.9 408.0 L768.7 408.5 L769.4 408.0 L770.2 405.7 L771.0 401.2 L772.1 405.2 L773.1 404.6 L774.2 403.4 L775.2 403.7 L776.1 405.4 L777.0 405.4 L778.0 405.0 L778.6 406.0 L779.3 407.3 L779.9 408.3 L780.6 408.4 L781.2 412.3 L782.3 410.9 L783.3 414.6 L784.4 413.6 L785.0 414.3 L785.7 415.7 L786.3 413.5 L787.0 410.3 L787.6 410.0 L788.9 410.8 L790.1 408.0 L791.4 409.3 L792.4 411.6 L793.3 411.7 L794.3 413.1 L795.3 415.2 L795.6 417.0 L795.9 418.7 L796.2 419.5 L796.5 419.0 L796.8 420.1 L797.0 420.8 L797.3 421.8 L797.6 423.2 L797.9 421.7 L798.2 424.4 L798.5 426.7 L798.9 424.3 L799.2 424.3 L799.6 424.5 L799.9 422.6 L800.3 425.1 L800.6 416.9 L801.0 417.6 L801.6 414.4 L802.3 417.6 L803.0 420.4 L803.6 412.3 L804.1 413.4 L804.7 413.8 L805.2 411.8 L805.7 411.9 L806.3 406.3 L806.8 409.1 L807.8 408.7 L808.8 407.4 L809.9 405.3 L810.9 406.1 L811.9 403.8 L813.0 404.4 L814.0 403.2 L815.1 399.6 L815.8 403.3 L816.4 405.8 L817.0 408.3 L817.7 407.0 L818.4 408.7 L819.0 411.1 L819.6 409.7 L820.3 410.5 L820.9 411.3 L821.6 405.9 L822.2 401.5 L823.2 404.2 L824.3 405.7 L825.3 404.4 L826.4 405.2 L827.4 403.7 L828.5 403.6 L828.8 407.4 L829.1 406.3 L829.5 405.2 L829.8 407.1 L830.1 414.8 L830.5 416.9 L830.8 414.3 L831.1 414.1 L831.3 414.0 L831.6 411.4 L831.8 413.3 L832.0 410.7 L832.3 407.1 L832.5 409.3 L832.8 405.9 L833.0 405.3 L833.2 403.8 L833.5 401.9 L833.7 401.6 L834.1 398.8 L834.5 395.0 L835.0 393.2 L835.4 392.3 L835.8 392.1 L836.2 392.5 L837.5 392.6 L838.8 393.2 L840.0 392.2 L841.3 389.8 L842.1 390.2 L842.9 388.6 L843.6 391.9 L844.4 394.8 L845.2 396.4 L846.2 396.3 L847.1 396.7 L848.0 399.4 L849.0 399.2 L849.8 399.1 L850.6 398.1 L851.3 396.5 L852.1 397.2 L852.9 393.4 L853.4 391.7 L854.0 389.6 L854.5 388.2 L855.1 391.2 L855.6 391.9 L856.2 388.3 L856.7 387.3 L857.8 387.6 L858.8 386.5 L859.9 386.3 L860.3 383.4 L860.6 384.3 L861.0 387.4 L861.4 391.0 L861.8 390.8 L862.1 389.8 L862.5 391.2 L862.7 391.9 L863.0 392.7 L863.2 398.0 L863.5 396.9 L863.7 398.5 L864.0 401.1 L864.4 399.5 L864.7 396.6 L865.0 393.0 L865.3 392.8 L865.6 394.0 L866.0 391.9 L866.3 391.4 L866.9 390.9 L867.6 392.3 L868.2 392.3 L868.9 394.3 L869.4 397.2 L870.0 394.0 L870.5 396.0 L871.0 398.0 L871.6 397.9 L872.1 399.0 L872.9 400.0 L873.6 401.8 L874.4 399.3 L875.1 397.3 L875.9 392.5 L876.2 396.2 L876.5 393.3 L876.9 391.3 L877.2 387.8 L877.5 387.7 L877.9 384.9 L878.2 385.2 L878.5 385.2 L879.6 384.0 L880.7 383.5 L882.0 381.7 L883.2 385.3 L884.5 382.9 L885.8 380.1 L887.1 381.8 L888.4 381.3 L889.7 380.6 L891.0 381.4 L891.7 383.8 L892.5 382.7 L893.2 384.8 L893.9 388.9 L894.7 389.6 L895.4 389.0 L895.9 387.8 L896.5 386.2 L897.0 385.0 L897.5 385.2 L898.1 383.0 L898.6 377.4 L899.9 380.2 L901.2 379.8 L902.5 382.5 L903.8 381.3 L904.4 380.9 L905.0 383.5 L905.7 377.9 L906.3 374.9 L906.7 372.6 L907.0 370.4 L907.4 369.1 L907.8 371.2 L908.2 369.3 L908.5 365.6 L908.9 364.2 L910.2 367.5 L911.4 365.9 L912.7 365.7 L913.7 366.3 L914.7 367.8 L915.6 368.7 L916.6 367.0 L917.1 366.4 L917.7 367.1 L918.2 371.0 L918.7 372.6 L919.3 370.9 L919.8 372.5 L920.4 373.4 L921.1 373.9 L921.7 373.9 L922.2 370.9 L922.8 370.5 L923.3 367.9 L923.9 371.2 L924.4 370.4 L925.0 366.3 L925.5 368.8 L926.8 368.5 L928.1 363.0 L928.4 366.7 L928.7 365.3 L929.0 366.0 L929.4 359.8 L929.7 359.9 L930.0 358.9 L930.3 357.4 L930.6 356.0 L931.5 356.4 L932.3 351.3 L933.2 349.3 L934.5 348.3 L935.7 349.1 L937.0 349.0 L937.5 352.2 L938.0 353.9 L938.6 355.0 L939.1 354.9 L939.6 356.1 L939.8 357.3 L940.0 356.4 L940.2 354.1 L940.4 351.7 L940.7 353.3 L940.9 349.2 L941.1 349.1 L941.3 349.1 L941.5 345.7 L941.7 345.6 L942.8 341.7 L943.8 343.6 L944.9 342.2 L945.3 337.7 L945.6 339.3 L946.0 336.4 L946.3 338.4 L946.7 334.9 L947.0 333.8 L947.4 333.4 L947.6 334.0 L947.8 336.1 L948.0 336.2 L948.3 339.3 L948.5 340.1 L948.7 341.6 L948.9 338.3 L949.1 344.4 L949.4 345.4 L949.6 343.4 L949.8 346.9 L950.0 349.6 L950.4 352.3 L950.9 350.0 L951.3 354.6 L951.7 351.6 L952.1 354.1 L952.5 349.9 L952.9 349.1 L953.3 346.2 L953.7 343.1 L954.1 345.1 L954.5 344.7 L954.9 344.9 L955.3 342.9 L955.8 338.8 L956.2 334.6 L956.6 334.1 L957.0 333.0 L958.0 332.2 L959.1 334.0 L960.1 333.8 L961.2 332.2 L962.2 332.0 L963.5 331.0 L964.7 330.8 L966.0 331.3 L966.3 330.8 L966.6 326.9 L966.9 323.2 L967.2 326.3 L967.6 324.3 L967.9 324.5 L968.2 318.8 L968.5 318.4 L969.4 318.4 L970.2 315.3 L971.1 315.2 L971.5 319.0 L971.8 321.8 L972.2 324.5 L972.6 322.0 L973.0 320.9 L973.3 324.8 L973.7 327.8 L974.1 325.7 L974.5 321.5 L975.0 322.9 L975.4 322.6 L975.8 321.2 L976.2 318.1 L976.5 317.6 L976.9 317.4 L977.2 314.1 L977.5 309.9 L977.8 311.4 L978.1 311.4 L978.5 309.7 L978.8 309.9 L979.4 306.8 L980.0 305.9 L980.7 304.6 L981.3 305.1 L982.6 307.3 L983.9 304.6 L985.2 307.7 L986.5 307.8 L986.8 305.3 L987.0 303.4 L987.3 304.0 L987.6 300.0 L987.9 297.9 L988.1 294.8 L988.4 295.6 L989.5 297.1 L990.6 295.6 L991.8 294.4 L992.9 292.3 L993.2 293.8 L993.5 292.2 L993.9 296.9 L994.2 296.7 L994.5 296.2 L994.8 297.4 L995.1 298.5 L995.5 302.6 L995.8 305.2 L996.1 302.6 L996.5 304.1 L996.9 303.7 L997.3 300.1 L997.7 296.4 L998.1 295.6 L998.5 294.7 L998.9 295.3 L999.3 293.4 L1000.2 289.3 L1001.2 291.2 L1002.1 288.1 L1003.1 290.7 L1004.4 287.9 L1005.7 287.7 L1005.8 288.7 L1006.0 290.4 L1006.1 295.1 L1006.2 296.8 L1006.3 297.8 L1006.5 298.5 L1006.6 296.2 L1006.7 298.1 L1006.8 299.5 L1007.0 300.1 L1007.1 303.8 L1007.2 303.7 L1007.3 304.5 L1007.5 305.1 L1007.6 304.6 L1007.9 307.2 L1008.2 308.6 L1008.5 306.3 L1008.9 302.6 L1009.2 298.6 L1009.5 300.4 L1009.8 302.2 L1010.1 300.3 L1010.6 300.1 L1011.1 300.3 L1011.6 299.0 L1012.1 295.0 L1012.4 297.9 L1012.7 299.2 L1012.9 296.3 L1013.2 298.1 L1013.5 297.7 L1013.8 300.7 L1014.0 303.8 L1014.3 302.7 L1014.6 301.4 L1014.9 307.7 L1015.1 309.1 L1015.4 312.4 L1015.6 309.4 L1015.9 313.4 L1016.2 317.5 L1016.4 318.7 L1016.7 316.9 L1016.9 318.0 L1017.2 318.4 L1017.0 318.9 L1016.7 318.2 L1016.5 315.4 L1016.2 311.0 L1016.0 312.3 L1015.7 309.8 L1015.5 310.0 L1015.2 308.5 L1015.0 309.6 L1015.2 310.8 L1015.5 309.3 L1015.8 311.0 L1016.0 314.9 L1016.2 313.0 L1016.5 314.9 L1016.8 317.8 L1017.0 319.7 L1017.2 319.9 L1017.5 317.6 L1018.6 316.8 L1019.6 319.5 L1020.7 321.0 L1021.8 325.1 L1022.8 321.3 L1023.9 323.8 L1024.0 322.6 L1024.2 317.0 L1024.3 315.7 L1024.5 316.2 L1024.6 314.4 L1024.8 313.5 L1024.9 313.5 L1025.1 310.4 L1025.2 310.7 L1025.4 308.0 L1025.5 306.4 L1025.7 307.0 L1025.8 304.4 L1026.2 304.1 L1026.5 305.6 L1026.9 302.4 L1027.3 300.2 L1027.7 300.1 L1028.0 297.3 L1028.4 298.1 L1029.5 293.5 L1030.5 294.6 L1031.6 292.3 L1032.4 292.5 L1033.1 297.9 L1033.9 295.9 L1034.6 300.6 L1035.4 301.0 L1035.9 301.0 L1036.4 296.0 L1036.9 297.4 L1037.3 297.6 L1037.8 294.1 L1038.3 292.1 L1038.8 295.1 L1039.3 291.6 L1040.1 288.7 L1040.9 286.7 L1041.7 287.3 L1042.5 286.7 L1043.3 285.7 L1044.0 287.5 L1044.8 283.9 L1045.5 283.4 L1046.3 284.5 L1046.9 281.9 L1047.6 285.4 L1048.2 288.7 L1048.9 285.0 L1049.5 284.9 L1050.2 285.5 L1050.8 285.0 L1051.4 289.5 L1052.1 287.6 L1052.9 289.6 L1053.7 291.3 L1054.5 285.7 L1055.3 285.3 L1056.6 282.6 L1057.8 286.3 L1059.1 284.9 L1060.4 285.1 L1061.4 284.8 L1062.3 284.9 L1063.2 282.8 L1064.2 282.0 L1064.7 279.8 L1065.2 279.4 L1065.8 276.1 L1066.3 276.3 L1066.8 272.0 L1067.8 272.8 L1068.8 276.8 L1069.9 274.5 L1070.9 270.8 L1071.9 271.7 L1072.4 268.8 L1072.9 265.8 L1073.5 265.5 L1074.0 267.2 L1074.5 266.3 L1075.1 264.3 L1075.8 261.3 L1076.4 259.1 L1076.6 264.4 L1076.8 265.1 L1077.0 264.1 L1077.2 262.6 L1077.4 264.1 L1077.6 272.3 L1077.8 269.6 L1078.0 271.4 L1078.2 273.4 L1078.4 274.2 L1078.6 275.2 L1078.8 274.4 L1079.0 275.5 L1079.8 281.5 L1080.6 279.9 L1081.4 283.0 L1082.2 280.2 L1082.8 280.3 L1083.4 280.5 L1084.1 281.2 L1084.7 276.8 L1085.3 277.6 L1085.6 276.6 L1086.0 273.4 L1086.3 273.7 L1086.6 270.5 L1086.9 268.7 L1087.2 268.6 L1087.6 263.9 L1087.9 265.1 L1088.8 265.2 L1089.7 264.9 L1090.6 267.1 L1091.5 270.5 L1092.4 270.1 L1092.5 274.0 L1092.7 271.8 L1092.8 271.6 L1092.9 277.5 L1093.0 278.3 L1093.2 280.4 L1093.3 278.8 L1093.4 282.0 L1093.5 283.0 L1093.7 284.9 L1093.8 285.2 L1093.9 288.3 L1094.0 286.9 L1094.2 286.7 L1094.3 286.5 L1094.4 292.0 L1094.5 291.4 L1094.6 291.4 L1094.7 292.5 L1094.8 294.5 L1094.9 294.6 L1095.0 297.2 L1095.1 298.4 L1095.2 299.7 L1095.3 300.3 L1095.4 303.1 L1095.5 304.0 L1095.6 306.2 L1095.8 308.0 L1096.1 309.5 L1096.3 306.4 L1096.5 309.0 L1096.8 310.2 L1097.0 314.2 L1097.3 312.2 L1097.5 313.8 L1097.8 313.5 L1098.1 312.6 L1098.4 313.8 L1098.7 310.9 L1098.9 311.6 L1099.2 306.8 L1099.5 303.7 L1099.8 307.2 L1100.1 306.3 L1100.3 305.2 L1100.6 303.3 L1100.8 302.4 L1101.1 298.3 L1101.3 299.8 L1101.6 296.9 L1102.0 300.3 L1102.4 300.7 L1102.9 298.1 L1103.3 299.2 L1103.5 302.1 L1103.6 300.1 L1103.8 298.1 L1103.9 297.7 L1104.0 295.5 L1104.2 293.7 L1104.3 293.4 L1104.5 292.5 L1104.6 293.8 L1104.8 290.8 L1105.0 294.8 L1105.2 296.5 L1105.4 297.8 L1105.7 298.3 L1105.9 297.6 L1106.1 298.2 L1106.3 298.7 L1106.5 298.7 L1106.7 298.2 L1106.9 296.1 L1107.1 298.6 L1107.2 296.7 L1107.4 293.5 L1107.6 288.9 L1107.8 289.8 L1108.0 288.6 L1109.7 287.4 L1109.7 288.2 L1109.7 288.2 L1109.7 293.2 L1109.8 294.6 L1109.8 300.4 L1109.8 298.9 L1109.8 299.0 L1109.8 302.7 L1109.8 302.5 L1109.8 303.3 L1109.8 303.5 L1109.9 303.9 L1109.9 308.7 L1109.9 310.3 L1109.9 313.0" fill="none" stroke="#12345a" stroke-width="6.8" stroke-linejoin="round" stroke-linecap="butt"/>
</g>
<text x="1129" y="311.2" textLength="49.5" lengthAdjust="spacingAndGlyphs" style="font-size:21px;fill:#12345a;stroke:#12345a;stroke-width:0.5">MXN</text>
<text x="1129.4" y="591.9" textLength="36" lengthAdjust="spacingAndGlyphs" style="font-size:21px;fill:#27a9e1;stroke:#27a9e1;stroke-width:0.5">JPY</text>
</svg>
</body></html>
